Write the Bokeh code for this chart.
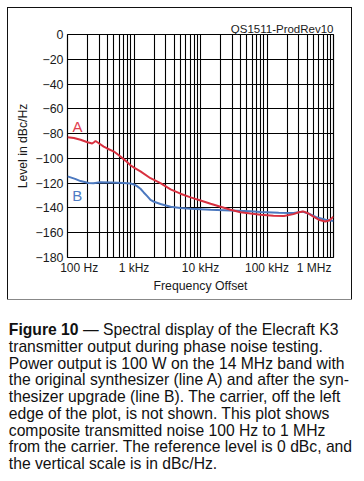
from bokeh.plotting import figure
from bokeh.models import FixedTicker, Label, Range1d
from bokeh.core.properties import value
from bokeh.embed import file_html
from bokeh.resources import INLINE

# ---- data ----
freq_a = [100, 125, 157, 200, 235, 250, 264, 300, 350, 395, 500, 626, 750, 886, 1000, 1250,
          1770, 2500, 3550, 5000, 7100, 10000, 14200, 20000, 28300, 40000, 56600, 80000,
          125000, 180000, 250000, 300000, 350000, 420000, 500000, 600000, 750000, 870000, 1000000]
level_a = [-83, -83.5, -85, -87, -88, -87, -86, -88, -90.5, -92, -94.5, -98.5, -102, -105.5, -107.5, -110.5,
           -116, -120, -125, -128.5, -131.5, -134, -136.6, -139, -141.5, -143.4, -144.5, -145.5,
           -146.3, -146.5, -145, -143.5, -142.8, -144.5, -147, -149.5, -151, -150, -147]

freq_b = [100, 130, 157, 207, 245, 313, 440, 700, 886, 1000, 1110, 1250, 1400, 1580, 1770, 2000,
          2500, 3550, 5000, 7100, 14200, 28300, 56600, 80000, 150000, 250000, 340000, 420000,
          550000, 760000, 1000000]
level_b = [-114.5, -116.5, -118.3, -119.8, -120, -119.3, -119.5, -119.8, -120.3, -121, -122.4, -124.5,
           -127.5, -130.5, -133.5, -135, -136.8, -139, -140, -140.7, -141.5, -142, -142.6, -143.2,
           -143.8, -144, -143, -144.5, -147.5, -149.6, -150.5]

x_ticks = [100, 1000, 10000, 100000, 1000000]
x_tick_labels = ["100 Hz", "1 kHz", "10 kHz", "100 kHz", "1 MHz"]
y_ticks = [0, -20, -40, -60, -80, -100, -120, -140, -160, -180]

header_text = "QS1511-ProdRev10"
caption_bold = "Figure 10"
caption_lines = [
    "\u00a0\u2014 Spectral display of the Elecraft K3",
    "transmitter output during phase noise testing.",
    "Power output is 100 W on the 14 MHz band with",
    "the original synthesizer (line A) and after the syn-",
    "thesizer upgrade (line B). The carrier, off the left",
    "edge of the plot, is not shown. This plot shows",
    "composite transmitted noise 100 Hz to 1 MHz",
    "from the carrier. The reference level is 0 dBc, and",
    "the vertical scale is in dBc/Hz.",
]

FONT = "Liberation Sans"
RED = "#d8303f"
BLUE = "#4b78bf"
TXT = "#1a1a1a"

# ---------- chart: canvas at page (8, 8), boxed by a CSS outline just outside it ----------
p = figure(frame_width=266, frame_height=223, x_axis_type="log", output_backend="svg",
           toolbar_location=None, x_range=Range1d(100, 1e6), y_range=Range1d(-180, 0),
           min_border_left=59, min_border_right=18, min_border_top=26, min_border_bottom=42,
           title=header_text, title_location="above")
p.styles = {"margin-left": "8px", "margin-top": "8px",
            "outline": "1.5px solid #111111", "outline-offset": "0px"}
p.background_fill_color = "white"
p.border_fill_color = "white"
p.outline_line_color = "black"
p.outline_line_width = 1.2

p.title.align = "right"
p.title.text_font = FONT
p.title.text_font_style = "normal"
p.title.text_font_size = "11.5px"
p.title.text_color = TXT
p.title.standoff = 0
p.title.offset = 0

minor = [m * d for d in [100, 1000, 10000, 100000] for m in range(2, 10)]
p.xaxis.ticker = FixedTicker(ticks=x_ticks, minor_ticks=minor)
pad_l = "\u00a0" * 7
pad_r = "\u00a0" * 6
ov = {t: lab for t, lab in zip(x_ticks, x_tick_labels)}
ov[x_ticks[0]] = pad_l + ov[x_ticks[0]]
ov[x_ticks[-1]] = ov[x_ticks[-1]] + pad_r
p.xaxis.major_label_overrides = ov
p.yaxis.ticker = FixedTicker(ticks=y_ticks)
p.yaxis.major_label_overrides = {t: (str(t).replace("-", "\u2212")) for t in y_ticks}

for ax in (p.xaxis[0], p.yaxis[0]):
    ax.axis_line_color = None
    ax.major_tick_line_color = None
    ax.minor_tick_line_color = None
    ax.major_tick_out = 0
    ax.major_tick_in = 0
    ax.minor_tick_out = 0
    ax.minor_tick_in = 0
    ax.major_label_text_font = FONT
    ax.major_label_text_color = TXT
    ax.axis_label_text_font = FONT
    ax.axis_label_text_font_style = "normal"
    ax.axis_label_text_color = TXT

p.xaxis.major_label_text_font_size = "12px"
p.xaxis.major_label_standoff = 3
p.xaxis.axis_label = "Frequency Offset"
p.xaxis.axis_label_text_font_size = "12.3px"
p.xaxis.axis_label_standoff = 1

p.yaxis.major_label_text_font_size = "12.4px"
p.yaxis.major_label_standoff = 4
p.yaxis.axis_label = "Level in dBc/Hz"
p.yaxis.axis_label_text_font_size = "12.2px"
p.yaxis.axis_label_standoff = 3

p.xgrid.ticker = FixedTicker(ticks=x_ticks, minor_ticks=minor)
p.xgrid.grid_line_color = "black"
p.xgrid.grid_line_width = 1.1
p.xgrid.minor_grid_line_color = "black"
p.xgrid.minor_grid_line_width = 1.1
p.ygrid.ticker = FixedTicker(ticks=y_ticks)
p.ygrid.grid_line_color = "black"
p.ygrid.grid_line_width = 1.1

p.line(freq_b, level_b, line_color=BLUE, line_width=2)
p.line(freq_a, level_a, line_color=RED, line_width=2)

p.add_layout(Label(x=141, y=-74.3, text="A", text_align="center", text_baseline="middle",
                   text_font=FONT, text_font_size="15px", text_color="#e04050"))
p.add_layout(Label(x=140, y=-130.3, text="B", text_align="center", text_baseline="middle",
                   text_font=FONT, text_font_size="15px", text_color="#4f7cc4"))

# ---------- caption (separate root, stacked below; y measured from its top) ----------
CTOP = 8 + 26 + 223 + 42
CW, CH = 364, 481 - CTOP
c = figure(width=CW, height=CH, output_backend="svg", toolbar_location=None,
           x_range=Range1d(0, CW), y_range=Range1d(CH, 0),
           x_axis_location=None, y_axis_location=None, min_border=0)
c.outline_line_color = None
c.grid.visible = False
c.background_fill_color = "white"
c.border_fill_color = "white"

base0 = 329.3 - CTOP
step = 16.7
x0 = 8.3
c.text(x=[x0], y=[base0], text=[caption_bold], text_font=value(FONT), text_font_style="bold",
       text_font_size="15.7px", text_baseline="alphabetic", text_color="#111111")
xs = [x0 + 69.8] + [x0] * (len(caption_lines) - 1)
ys = [base0 + i * step for i in range(len(caption_lines))]
c.text(x=xs, y=ys, text=caption_lines, text_font=value(FONT), text_font_size="15.7px",
       text_baseline="alphabetic", text_color="#111111")

open("out.html", "w").write(file_html([p, c], INLINE))
